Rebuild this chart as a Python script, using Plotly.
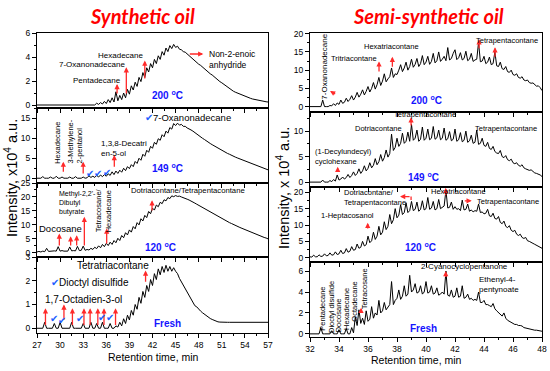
import plotly.graph_objects as go

# ---------------- data ----------------
# Synthetic oil: retention time grid 27..57 min, step 0.25 min
syn_t0, syn_dt = 27.0, 0.25
syn_200 = [
    0, 0, 0, 0, 0, 0, 0, 0,
    0, 0, 0, 0, 0, 0, 0, 0,
    0, 0, 0, 0, 0, 0, 0, 0,
    0, 0, 0, 0, 0, 0.05, 0, 0.15,
    0.05, 0.2, 0.08, 0.3, 0.12, 0.45, 0.2, 0.6,
    0.25, 1.1, 0.35, 0.8, 0.45, 1.0, 0.6, 1.3,
    0.9, 1.6, 1.25, 1.9, 1.55, 2.3, 1.95, 2.7,
    2.3, 3.1, 2.75, 3.45, 3.1, 3.8, 3.45, 4.1,
    3.8, 4.45, 4.15, 4.75, 4.45, 4.95, 4.7, 5.05,
    4.8, 4.9, 4.65, 4.6, 4.45, 4.4, 4.25, 4.1,
    3.95, 3.85, 3.7, 3.55, 3.4, 3.3, 3.15, 3.0,
    2.9, 2.75, 2.6, 2.5, 2.35, 2.2, 2.1, 1.95,
    1.85, 1.72, 1.6, 1.48, 1.36, 1.25, 1.15, 1.07,
    1.0, 0.92, 0.85, 0.78, 0.72, 0.66, 0.6, 0.55,
    0.5, 0.46, 0.42, 0.38, 0.35, 0.32, 0.3, 0.27,
    0.25]
syn_149 = [
    0, 0, 0, 0.4, 0, 0, 0, 0.3,
    0, 0, 0.5, 0, 0, 0.3, 0, 0,
    0, 0.3, 0, 0, 0.4, 0, 0, 0,
    0.3, 0, 0.1, 0.6, 0.2, 0.5, 0.2, 0.7,
    0.3, 0.8, 0.4, 0.9, 0.5, 1.1, 0.7, 1.6,
    0.9, 1.8, 1.2, 2.0, 1.5, 2.5, 1.9, 2.9,
    2.4, 3.4, 2.9, 4.2, 3.7, 5.0, 4.5, 6.0,
    5.5, 7.0, 6.5, 8.0, 7.5, 9.0, 8.5, 9.9,
    9.5, 10.9, 10.4, 11.8, 11.3, 12.7, 12.3, 13.7,
    13.2, 13.8, 13.3, 13.5, 13.0, 13.0, 12.6, 12.4,
    12.1, 11.8, 11.4, 11.1, 10.7, 10.4, 10.0, 9.7,
    9.3, 9.0, 8.7, 8.4, 8.1, 7.8, 7.5, 7.3,
    7.0, 6.7, 6.5, 6.2, 6.0, 5.7, 5.5, 5.3,
    5.1, 4.9, 4.7, 4.5, 4.3, 4.1, 3.9, 3.7,
    3.5, 3.3, 3.2, 3.0, 2.8, 2.6, 2.5, 2.3,
    2.1]
syn_120 = [
    0.3, 0.5, 0.3, 0.6, 0.4, 1.6, 0.5, 0.6,
    0.5, 0.7, 0.6, 2.2, 0.6, 0.8, 0.6, 0.7,
    0.6, 2.1, 0.7, 0.8, 0.7, 2.3, 0.8, 0.9,
    2.4, 0.9, 1.2, 1.0, 1.6, 1.2, 2.0, 1.5,
    2.5, 1.8, 3.0, 2.2, 3.4, 2.6, 3.8, 3.0,
    4.4, 3.6, 5.2, 4.4, 6.2, 5.4, 7.2, 6.4,
    8.2, 7.4, 9.4, 8.6, 10.8, 10.0, 12.2, 11.4,
    13.4, 12.6, 14.8, 14.0, 16.0, 15.3, 17.1, 16.5,
    18.1, 17.6, 19.0, 18.6, 19.8, 19.4, 20.4, 20.1,
    20.5, 20.2, 20.3, 20.0, 19.8, 19.5, 19.2, 18.9,
    18.6, 18.2, 17.8, 17.4, 17.0, 16.6, 16.2, 15.8,
    15.4, 15.0, 14.6, 14.2, 13.8, 13.4, 13.0, 12.6,
    12.2, 11.9, 11.5, 11.2, 10.8, 10.5, 10.1, 9.8,
    9.5, 9.2, 8.9, 8.6, 8.3, 8.0, 7.7, 7.4,
    7.1, 6.8, 6.6, 6.3, 6.0, 5.8, 5.5, 5.3,
    5.0]
syn_fresh = [
    0, 0, 0, 0, 0.25, 0, 0, 0,
    0, 0.2, 0, 0, 0.25, 0, 0, 0,
    0, 0, 0.25, 0, 0, 0, 0, 0,
    0.2, 0, 0, 0, 0.25, 0, 0, 0.2,
    0, 0, 0.25, 0, 0, 0, 0.2, 0,
    0, 0.1, 0.05, 0.25, 0.1, 0.4, 0.2, 0.55,
    0.35, 0.75, 0.55, 1.0, 0.8, 1.3, 1.05, 1.55,
    1.3, 1.8, 1.55, 2.05, 1.8, 2.3, 2.05, 2.5,
    2.25, 2.6, 2.35, 2.65, 2.4, 2.6, 2.4, 2.55,
    2.4, 2.3, 2.1, 1.95, 1.8, 1.65, 1.5, 1.35,
    1.2, 1.05, 0.95, 0.9, 0.8, 0.72, 0.65, 0.58,
    0.52, 0.46, 0.41, 0.37, 0.33, 0.3, 0.27, 0.26,
    0.25, 0.25, 0.25, 0.25, 0.25, 0.25, 0.25, 0.25,
    0.25, 0.25, 0.25, 0.25, 0.25, 0.25, 0.25, 0.25,
    0.25, 0.25, 0.25, 0.25, 0.25, 0.25, 0.25, 0.25,
    0.25]

# Semi-synthetic oil: retention time grid 32..48 min, step 0.125 min
semi_t0, semi_dt = 32.0, 0.125
semi_200 = [
    0, 0, 0, 0, 0, 0, 0, 1.8,
    0, 0, 0, 0.3, 0.2, 0.8, 0.3, 1.0,
    0.6, 1.8, 0.9, 1.2, 2.3, 1.4, 2.0, 3.0,
    1.8, 2.6, 3.9, 2.6, 3.4, 4.6, 3.2, 4.2,
    5.5, 4.0, 5.0, 6.6, 4.8, 6.0, 8.0, 5.8,
    7.0, 9.0, 6.8, 7.6, 8.2, 10.6, 8.0, 9.0,
    8.8, 10.0, 11.5, 9.6, 10.6, 12.2, 10.0, 11.0,
    13.0, 10.8, 11.6, 13.2, 11.0, 11.8, 14.0, 11.5,
    12.2, 13.8, 11.6, 12.4, 14.6, 12.0, 12.6, 15.0,
    12.4, 13.0, 13.8, 12.6, 16.2, 12.8, 13.2, 14.6,
    15.6, 12.9, 13.4, 14.8, 12.8, 13.2, 15.2, 12.6,
    13.0, 14.6, 12.4, 12.8, 13.0, 17.6, 12.3, 12.5,
    13.8, 11.8, 12.2, 13.6, 11.5, 11.8, 15.0, 11.2,
    11.0, 12.2, 10.4, 10.2, 11.0, 9.6, 9.4, 10.0,
    8.8, 8.6, 9.0, 8.0, 7.8, 8.2, 7.3, 7.1,
    7.3, 6.6, 6.4, 6.5, 5.9, 5.6, 5.7, 5.2,
    4.4]
semi_149 = [
    0, 0, 0, 0, 0, 0, 0, 0.4,
    0, 0, 0, 0.3, 0.1, 0.5, 0.2, 1.4,
    0.4, 0.6, 1.0, 0.6, 0.9, 1.5, 0.9, 1.3,
    2.0, 1.3, 1.7, 2.6, 1.7, 2.2, 3.2, 2.2,
    2.7, 3.8, 2.8, 3.3, 4.6, 3.4, 4.0, 5.4,
    4.1, 4.8, 6.3, 4.9, 5.6, 9.4, 6.2, 6.8,
    8.6, 7.0, 7.6, 9.6, 7.6, 8.0, 9.8, 8.0,
    11.3, 8.2, 8.6, 10.2, 8.0, 8.4, 10.8, 8.2,
    8.6, 10.4, 8.3, 8.6, 10.9, 8.4, 8.7, 10.2,
    8.3, 8.6, 10.6, 8.2, 8.5, 9.9, 8.1, 8.4,
    10.4, 8.0, 8.3, 9.7, 7.9, 8.2, 10.0, 7.8,
    8.1, 9.2, 7.6, 7.8, 10.2, 7.4, 7.6, 8.6,
    7.2, 7.0, 7.8, 6.6, 6.4, 7.0, 6.0, 5.7,
    5.6, 6.2, 5.0, 4.8, 5.2, 4.4, 4.2, 4.5,
    3.8, 3.6, 3.8, 3.3, 3.1, 3.4, 2.8, 2.6,
    2.5, 2.3, 2.4, 2.0, 1.8, 1.7, 1.6, 1.4,
    1.1]
semi_120 = [
    0.3, 0.2, 0.8, 0.3, 0.3, 0.9, 0.4, 0.5,
    1.2, 0.6, 0.7, 1.5, 0.8, 0.9, 1.8, 1.0,
    1.2, 2.3, 1.3, 1.5, 2.8, 1.7, 2.0, 3.4,
    2.3, 2.5, 4.2, 2.9, 3.2, 5.0, 3.6, 4.0,
    6.6, 4.6, 5.2, 7.8, 5.6, 6.6, 9.6, 7.0,
    7.8, 11.0, 8.6, 9.6, 13.2, 10.4, 11.6, 15.0,
    12.2, 13.0, 16.2, 13.2, 13.8, 16.8, 13.8, 14.4,
    17.2, 14.4, 14.8, 17.0, 14.2, 14.8, 17.4, 14.6,
    15.0, 18.4, 14.8, 15.2, 17.2, 14.6, 15.0, 17.8,
    15.0, 15.4, 15.8, 20.6, 15.2, 15.4, 17.0, 14.8,
    15.6, 14.8, 15.0, 14.4, 17.6, 14.6, 14.8, 16.4,
    14.2, 14.6, 14.0, 14.4, 14.2, 16.4, 13.8, 14.0,
    13.4, 13.6, 14.8, 12.8, 12.6, 13.6, 12.0, 11.8,
    12.6, 10.8, 10.4, 11.2, 9.6, 9.2, 9.8, 8.4,
    8.0, 8.4, 7.2, 6.8, 7.2, 6.2, 5.9, 6.2,
    5.2, 5.0, 4.8, 4.4, 4.1, 3.8, 3.6, 3.3,
    2.9]
semi_fresh = [
    0, 0, 0, 0, 0, 0, 0.6, 0,
    0, 0, 0, 0, 0.3, 0, 0, 0,
    0.4, 0, 0, 0, 0.5, 0, 0, 0.6,
    0.1, 1.6, 0.8, 2.3, 1.0, 1.5, 0.9, 2.2,
    1.2, 1.4, 2.6, 1.5, 2.0, 1.8, 3.2, 2.0,
    2.2, 3.0, 2.3, 2.6, 2.8, 5.0, 2.8, 3.2,
    3.4, 4.2, 3.3, 3.6, 4.6, 3.6, 3.8, 5.6,
    4.0, 4.2, 4.8, 3.9, 4.0, 4.6, 3.8, 4.0,
    5.0, 3.9, 4.0, 4.6, 3.8, 3.9, 4.4, 3.7,
    3.8, 4.0, 3.8, 6.0, 3.7, 3.6, 4.2, 3.5,
    3.6, 4.4, 3.5, 3.6, 4.6, 3.4, 3.5, 3.8,
    3.3, 3.4, 3.2, 3.3, 3.2, 4.0, 3.0, 3.0,
    3.2, 2.8, 2.8, 2.7, 2.6, 2.9, 2.4, 2.2,
    2.0, 1.9, 1.7, 2.0, 1.5, 1.3, 1.2, 1.1,
    1.0, 0.9, 0.9, 0.8, 0.8, 0.75, 0.6, 0.55,
    0.5, 0.45, 0.45, 0.4, 0.35, 0.35, 0.3, 0.3,
    0.25]

# peak markers (arrows): (time, from intensity, to intensity)
arrows_syn_200 = [(37.4, 0.83, 1.75), (38.6, 0.83, 3.14), (41.0, 2.08, 3.7)]
arrows_syn_149 = [(30.42, 1.25, 4.15), (33.0, 0.83, 4.15), (37.04, 2.5, 5.8)]
arrows_syn_120 = [(29.9, 2.1, 6.9), (31.37, 2.1, 5.9), (32.15, 2.1, 6.3),
                  (33.15, 2.1, 12.9), (36.05, 2.8, 8.7), (41.94, 14.6, 18.8)]
arrows_syn_fresh = [(28.1, 0.07, 0.84), (30.5, 0.3, 1.0), (31.6, 0.07, 0.84),
                    (33.1, 0.07, 0.84), (33.9, 0.07, 0.84), (34.9, 0.07, 0.84),
                    (35.7, 0.07, 0.84), (37.2, 0.07, 0.84), (41.1, 1.9, 2.43)]
arrows_semi_200 = [(36.76, 9.2, 12.4), (37.68, 10.5, 13.7), (43.66, 15.6, 18.5), (44.76, 13.3, 16.3)]
arrows_semi_149 = [(33.91, 1.75, 3.0), (38.97, 10.8, 12.7)]
arrows_semi_120 = [(35.98, 8.5, 10.7), (41.36, 18.6, 21.4)]
arrows_semi_fresh = [(41.36, 5.3, 6.0), (35.52, 2.1, 2.5)]

# ---------------- figure ----------------
W, H = 550, 371
FONT = "Liberation Sans, Arial, sans-serif"
BLUE = "#1414ff"
CHK = "#1f5fff"
RED = "#ff2a2a"

syn_time = [syn_t0 + syn_dt * i for i in range(len(syn_200))]
semi_time = [semi_t0 + semi_dt * i for i in range(len(semi_200))]

series = [
    (syn_time, syn_200), (syn_time, syn_149), (syn_time, syn_120), (syn_time, syn_fresh),
    (semi_time, semi_200), (semi_time, semi_149), (semi_time, semi_120), (semi_time, semi_fresh),
]

def xname(i):
    return "x" if i == 1 else f"x{i}"

def yname(i):
    return "y" if i == 1 else f"y{i}"

fig = go.Figure()
for i, (t, v) in enumerate(series, start=1):
    fig.add_trace(go.Scatter(x=t, y=v, mode="lines", line=dict(color="black", width=1),
                             xaxis=xname(i), yaxis=yname(i), showlegend=False, hoverinfo="skip"))

def ydom(top, bottom):
    return [1 - bottom / H, 1 - top / H]

left_dom = [37 / W, 268 / W]
right_dom = [310 / W, 542 / W]
left_rows = [(33, 108), (108, 183), (183, 257), (257, 333)]
right_rows = [(33, 111.7), (111.7, 186.7), (186.7, 261.7), (261.7, 337)]

yspec = [
    ([-0.25, 6], [0, 2, 4, 6], 1),
    ([-1.2, 17.6], [0, 5, 10, 15], 2.5),
    ([-1.5, 25], [0, 5, 10, 15, 20, 25], 2.5),
    ([-0.2, 3], [0, 1, 2, 3], 0.5),
    ([-1.4, 20.2], [0, 5, 10, 15, 20], 2.5),
    ([-0.9, 13.8], [0, 5, 10], 2.5),
    ([-1.2, 21.7], [0, 5, 10, 15, 20], 2.5),
    ([-0.3, 6.9], [0, 2, 4, 6], 1),
]

layout_axes = {}
for i in range(1, 9):
    left = i <= 4
    row = (i - 1) % 4
    top, bot = (left_rows if left else right_rows)[row]
    xr = [27, 57] if left else [32, 48]
    dt = 3 if left else 2
    mdt = 1.5 if left else 1
    layout_axes["xaxis" if i == 1 else f"xaxis{i}"] = dict(
        domain=left_dom if left else right_dom, range=xr, anchor=yname(i),
        tick0=xr[0], dtick=dt, ticks="outside", ticklen=4, tickwidth=1, tickcolor="black",
        minor=dict(tick0=xr[0], dtick=mdt, ticks="outside", ticklen=2, tickcolor="black"),
        showline=True, linecolor="black", linewidth=1, mirror=True,
        showgrid=False, zeroline=False, showticklabels=(row == 3),
        tickfont=dict(size=8.5, family=FONT, color="black"), automargin=False)
    yr, tv, mdy = yspec[i - 1]
    layout_axes["yaxis" if i == 1 else f"yaxis{i}"] = dict(
        domain=ydom(top, bot), range=yr, anchor=xname(i),
        tickvals=tv, ticks="outside", ticklen=4, tickwidth=1, tickcolor="black",
        minor=dict(tick0=0, dtick=mdy, ticks="outside", ticklen=2, tickcolor="black"),
        showline=True, linecolor="black", linewidth=1, mirror=True,
        showgrid=False, zeroline=False,
        tickfont=dict(size=8.5, family=FONT, color="black"), automargin=False)

ann = []

def txt(s, px, py, size=8, color="black", angle=0, xanchor="center", align="center",
        family=FONT):
    ann.append(dict(text=s, x=px / W, y=1 - py / H, xref="paper", yref="paper",
                    xanchor=xanchor, yanchor="middle", showarrow=False, textangle=angle,
                    align=align, font=dict(size=size, color=color, family=family)))

def arrow(i, x0, y0, x1, y1, head=2):
    ann.append(dict(x=x1, y=y1, ax=x0, ay=y0, xref=xname(i), yref=yname(i),
                    axref=xname(i), ayref=yname(i), text="", showarrow=True,
                    arrowhead=head, arrowsize=0.8, arrowwidth=1.3, arrowcolor=RED,
                    standoff=0, startstandoff=0))

def peak_arrows(i, lst):
    for (x, y0, y1) in lst:
        arrow(i, x, y0, x, y1)

peak_arrows(1, arrows_syn_200)
arrow(1, 46.65, 4.25, 48.6, 4.25)
peak_arrows(2, arrows_syn_149)
peak_arrows(3, arrows_syn_120)
peak_arrows(4, arrows_syn_fresh)
peak_arrows(5, arrows_semi_200)
arrow(5, 33.84, 3.2, 33.38, 4.3)
peak_arrows(6, arrows_semi_149)
peak_arrows(7, arrows_semi_120)
arrow(7, 38.97, 17.2, 38.97, 18.7, head=0)
arrow(7, 38.97, 18.7, 38.21, 18.7)
arrow(7, 42.57, 17.4, 43.15, 17.4)
peak_arrows(8, arrows_semi_fresh)

# titles
TF = "Lato, Open Sans, sans-serif"
txt("<b><i>Synthetic oil</i></b>", 142, 16, size=20, color="#ff0000", family=TF)
txt("<b><i>Semi-synthetic oil</i></b>", 428.5, 16, size=20, color="#ff0000", family=TF)

# axis titles
txt("Intensity, x10<sup>4</sup> a.u.", 11, 178, size=14.5, angle=-90)
txt("Intensity, x 10<sup>4</sup> a.u.", 283, 188, size=14.5, angle=-90)
txt("Retention time, min", 153, 357, size=10.5)
txt("Retention time, min", 416.7, 360, size=10.5)

# temperature labels
for s, px, py in [("200 <sup>o</sup>C", 167, 95), ("149 <sup>o</sup>C", 167, 168),
                  ("120 <sup>o</sup>C", 160, 247), ("Fresh", 167, 323),
                  ("200 <sup>o</sup>C", 426, 100), ("149 <sup>o</sup>C", 423, 177),
                  ("120 <sup>o</sup>C", 420, 247), ("Fresh", 423, 328)]:
    txt(f"<b>{s}</b>", px, py, size=10, color=BLUE)

# synthetic labels
txt("Pentadecane", 96.7, 80.7, size=8)
txt("7-Oxanonadecane", 91.7, 64.3, size=8)
txt("Hexadecane", 120.5, 55, size=8)
txt("Non-2-enoic<br>anhydride", 206.7, 60, size=8.5, xanchor="left", align="left")
txt(f"<span style='color:{CHK}'>✔</span>7-Oxanonadecane", 188, 117.3, size=9.5)
txt("Hexadecane", 57.3, 142.5, size=7.5, angle=-90)
txt("3-Methylene-<br>2-pentanol", 75, 141.5, size=7.5, angle=-90, align="left")
txt("1,3,8-Decatri<br>en-5-ol", 99.3, 148.3, size=8, xanchor="left", align="left")
for px, py in [(90, 174), (98, 173), (107, 172)]:
    txt("✔", px, py, size=10, color=CHK)
txt("Docosane", 60.8, 228.3, size=9.5)
txt("Methyl-2,2'-<br>Dibutyl<br>butyrate", 57, 203.3, size=7, xanchor="left", align="left")
txt("Tetracosane/<br>Hexadecane", 103.3, 210, size=7.5, angle=-90, align="left")
txt("Dotriacontane/Tetrapentacontane", 188.3, 190, size=7.7)
txt("Tetratriacontane", 112.5, 265, size=10)
txt(f"<span style='color:{CHK}'>✔</span>Dioctyl disulfide", 90, 282.3, size=10)
txt("1,7-Octadien-3-ol", 83.3, 299.3, size=10)
for px, py in [(54.3, 318), (62.3, 320), (80, 318), (101.7, 317), (110, 317)]:
    txt("✔", px, py, size=10, color=CHK)

# semi-synthetic labels
txt("7-Oxanonadecane", 325, 66.7, size=8, angle=-90)
txt("Tritriacontane", 354, 58.3, size=7.5)
txt("Hexatriacontane", 391, 46.7, size=7.5)
txt("Tetrapentacontane", 506.7, 40, size=7.5)
txt("Tetrapentacontane", 425, 115, size=7.5)
txt("Dotriacontane", 378.5, 129, size=7.5)
txt("Tetrapentacontane", 505.5, 129, size=7.5)
txt("(1-Decylundecyl)<br>cyclohexane", 313, 156.7, size=7.5, xanchor="left", align="left")
txt("Dotriacontane/<br>Tetrapentacontane", 341.7, 197.5, size=7.5, xanchor="left", align="left")
txt("Hexatriacontane", 458.3, 191.7, size=7.5)
txt("Tetrapentacontane", 507.5, 201.7, size=7.5)
txt("1-Heptacosanol", 347.8, 215, size=7.5)
txt("2-Cyanocyclopentanone", 464, 266.7, size=8)
txt("Ethenyl-4-<br>pentynoate", 476.7, 284, size=8, xanchor="left", align="left")
for s, px, py in [("Pentadecane", 321.7, 309), ("Dioctyl disulfide", 331, 307),
                  ("Docosane", 338.3, 315), ("Hexadecane", 346, 309),
                  ("Octadecane", 355, 301.7), ("Tetracosane", 364.3, 289)]:
    txt(s, px, py, size=7.5, angle=-90)

fig.update_layout(
    template="none", width=W, height=H, margin=dict(l=0, r=0, t=0, b=0),
    paper_bgcolor="white", plot_bgcolor="white", showlegend=False,
    font=dict(family=FONT, color="black"), annotations=ann, **layout_axes)

fig.write_html(
    "out.html",
    config={"displayModeBar": False},
    post_script="document.body.style.margin='0';document.body.style.overflow='hidden';",
)
